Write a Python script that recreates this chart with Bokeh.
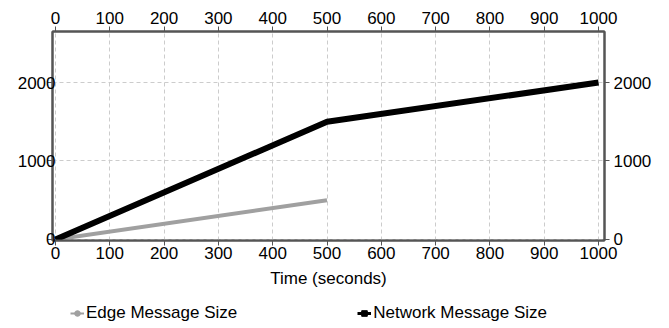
from bokeh.plotting import figure
from bokeh.layouts import column
from bokeh.models import (Range1d, LinearAxis, FixedTicker, Legend, LegendItem)
from bokeh.embed import file_html
from bokeh.resources import INLINE

# Data
time_edge = [0, 500]
edge_size = [0, 500]
time_net = [0, 500, 1000]
net_size = [0, 1500, 2000]
x_ticks = [0, 100, 200, 300, 400, 500, 600, 700, 800, 900, 1000]
y_ticks = [0, 1000, 2000]
series_names = ["Edge Message Size", "Network Message Size"]

FONT = "Liberation Sans"
FS = "17px"
AXIS_COL = "#555555"
EDGE_COL = "#a0a0a0"
NET_COL = "#000000"

p = figure(frame_width=552, frame_height=209, output_backend="svg", toolbar_location=None,
           x_range=Range1d(-5.5, 1011), y_range=Range1d(-13, 2650),
           min_border_left=52, min_border_right=58, min_border_top=31,
           min_border_bottom=55)
p.outline_line_color = AXIS_COL
p.outline_line_width = 2

bottom = p.below[0]
left = p.left[0]
top = LinearAxis()
right = LinearAxis()
p.add_layout(top, "above")
p.add_layout(right, "right")

xt = FixedTicker(ticks=x_ticks, num_minor_ticks=5)
yt = FixedTicker(ticks=y_ticks, num_minor_ticks=5)
for ax in (top, bottom):
    ax.ticker = xt
for ax in (left, right):
    ax.ticker = yt

for ax in (top, bottom, left, right):
    ax.axis_line_color = AXIS_COL
    ax.axis_line_width = 2
    ax.major_tick_line_color = AXIS_COL
    ax.minor_tick_line_color = AXIS_COL
    ax.major_tick_out = 5
    ax.major_tick_in = 0
    ax.minor_tick_out = 3
    ax.minor_tick_in = 0
    ax.major_label_text_font = FONT
    ax.major_label_text_font_size = FS
    ax.major_label_text_color = "#000000"

left.major_label_standoff = -8
right.major_label_standoff = 4
top.major_label_standoff = 3
bottom.major_label_standoff = 1
bottom.axis_label = "Time (seconds)"
bottom.axis_label_text_font = FONT
bottom.axis_label_text_font_size = FS
bottom.axis_label_text_font_style = "normal"
bottom.axis_label_text_color = "#000000"
bottom.axis_label_standoff = 7

p.xgrid.ticker = xt
p.ygrid.ticker = yt
for g in (p.xgrid, p.ygrid):
    g.grid_line_color = "#cccccc"
    g.grid_line_dash = "4 3"
    g.grid_line_width = 1

# Series
p.line(time_edge, edge_size, line_color=EDGE_COL, line_width=4)
p.line(time_net, net_size, line_color=NET_COL, line_width=6)

# Legend strip below the chart (its renderers hold the series data, but the
# strip's ranges keep them out of view so only the legend glyphs show)
lf = figure(width=662, height=33, output_backend="svg", toolbar_location=None,
            x_axis_type=None, y_axis_type=None, min_border=0,
            x_range=Range1d(5000, 6000), y_range=Range1d(5000, 6000))
lf.outline_line_color = None
lf.grid.visible = False

le1 = lf.line(time_edge, edge_size, line_color=EDGE_COL, line_width=2)
ls1 = lf.scatter(time_edge, edge_size, marker="circle", size=6,
                 fill_color=EDGE_COL, line_color=EDGE_COL)
le2 = lf.line(time_net, net_size, line_color=NET_COL, line_width=3)
ls2 = lf.scatter(time_net, net_size, marker="square", size=7,
                 fill_color=NET_COL, line_color=NET_COL)

legend = Legend(items=[LegendItem(label=series_names[0], renderers=[le1, ls1]),
                       LegendItem(label=series_names[1], renderers=[le2, ls2])],
                orientation="horizontal", location=(18, 5),
                label_text_font=FONT, label_text_font_size=FS,
                label_text_color="#000000",
                glyph_width=14, glyph_height=14, label_standoff=2,
                spacing=120, padding=0, margin=0,
                border_line_color=None, background_fill_alpha=0)
lf.add_layout(legend, "center")

layout = column(p, lf, spacing=0)
open("out.html", "w").write(file_html(layout, INLINE))
